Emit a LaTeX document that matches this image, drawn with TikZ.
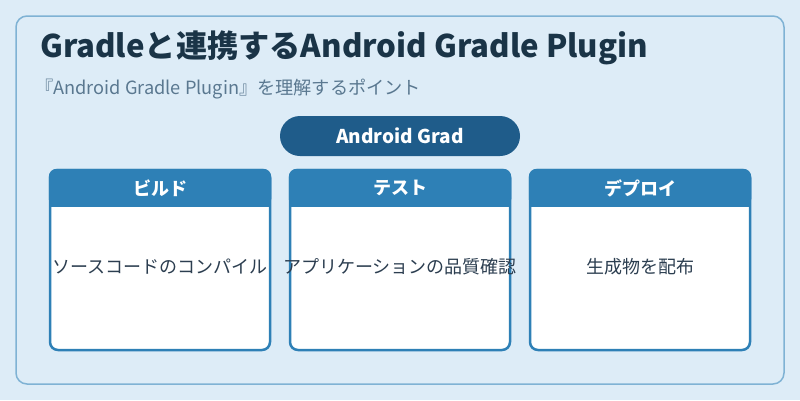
\documentclass[tikz,border=0pt]{standalone}
\usepackage{fontspec}
\setmainfont{Noto Sans CJK JP}
\definecolor{bgc}{HTML}{DDECF7}
\definecolor{framec}{HTML}{7FB2D4}
\definecolor{titlec}{HTML}{1A3447}
\definecolor{subc}{HTML}{5A7890}
\definecolor{pillc}{HTML}{1F5C8A}
\definecolor{headc}{HTML}{2E80B6}
\definecolor{bodyt}{HTML}{2C3E50}
\tikzset{
  cardbody/.style={draw=headc, line width=2.5pt, fill=white, rounded corners=8pt},
  headtext/.style={text=white, font=\fontsize{18}{20}\selectfont\bfseries, anchor=center},
  bodytext/.style={text=bodyt, font=\fontsize{18}{20}\selectfont, anchor=center},
}
\begin{document}
\begin{tikzpicture}[x=1pt,y=-1pt]
\fill[bgc] (0,0) rectangle (800,400);
\useasboundingbox (0,0) rectangle (800,400);
\draw[framec, line width=1.5pt, fill=bgc, rounded corners=11pt] (16,16) rectangle (784,384);
\node[anchor=west, text=titlec, font=\fontsize{31.2}{34}\selectfont\bfseries, inner sep=0] (title) at (40,48) {Gradleと連携するAndroid Gradle Plugin};
\node[anchor=west, text=subc, font=\fontsize{18.2}{22}\selectfont, inner sep=0] (sub) at (35,89) {『Android Gradle Plugin』を理解するポイント};
\fill[pillc, rounded corners=20pt] (280,116) rectangle (520,156);
\node[text=white, font=\fontsize{19}{22}\selectfont\bfseries] (pill) at (400,136) {Android Grad};
\foreach \x/\h/\b/\n in {50/ビルド/ソースコードのコンパイル/a, 290/テスト/アプリケーションの品質確認/b, 530/デプロイ/生成物を配布/c}{
  \draw[cardbody] (\x,170) rectangle ++(220,180);
  \fill[headc, rounded corners=8pt] (\x-1.25,168.75) rectangle ++(222.5,38);
  \fill[headc] (\x-1.25,190) rectangle ++(222.5,16.75);
  \node[headtext] (h\n) at (\x+110,188) {\h};
  \node[bodytext] (t\n) at (\x+110,267) {\b};
}
\end{tikzpicture}
\end{document}
